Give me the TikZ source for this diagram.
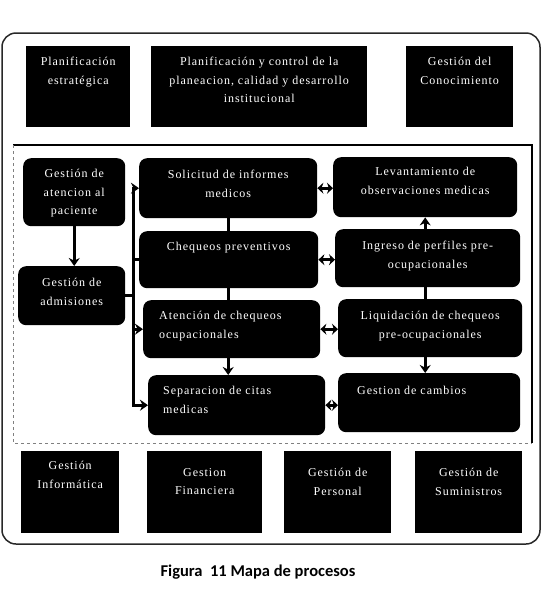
\documentclass[tikz,border=0pt]{standalone}
\usepackage{fontspec}
\usepackage{tikz}
\usetikzlibrary{arrows.meta, positioning, calc}
\newfontfamily\boxfont[LetterSpace=8]{Liberation Serif}
\newfontfamily\capfont{Carlito}
\definecolor{framegray}{RGB}{40,40,40}

\tikzset{
  flatbox/.style={fill=black, inner sep=0pt, anchor=north west},
  procbox/.style={fill=black, rounded corners=8pt, inner sep=0pt, anchor=north west},
  boxtxt/.style={text=white, font=\boxfont\fontsize{12}{18.5}\selectfont, align=center, anchor=north, inner sep=0pt},
  lefttxt/.style={boxtxt, align=left, anchor=north west},
  flow/.style={-{Stealth[length=8pt,width=11pt]}, line width=2.6pt},
  twoway/.style={{Stealth[length=6pt,width=11pt]}-{Stealth[length=6pt,width=11pt]}, line width=2.6pt},
  link/.style={line width=2.6pt}
}

\begin{document}
\begin{tikzpicture}[x=1pt, y=-1pt]
  \useasboundingbox (0,0) rectangle (543,606);
  % frames
  \draw[framegray, line width=1.5pt, rounded corners=14pt] (2,33) rectangle (540,544);
  \draw[line width=2.5pt] (13,145) -- (532,145) -- (532,443);
  \draw[gray, dashed] (13,145) -- (13,443) -- (532,443);

  % strategic processes
  \node[flatbox, minimum width=104pt, minimum height=81pt] (pe) at (26,46) {};
  \node[flatbox, minimum width=216pt, minimum height=81pt] (pc) at (151,46) {};
  \node[flatbox, minimum width=107pt, minimum height=81pt] (gc) at (406,46) {};
  \node[boxtxt, yshift=-11pt] (peT) at (pe.north) {Planificación\\estratégica};
  \node[boxtxt, yshift=-11pt] (pcT) at (pc.north) {Planificación y control de la\\planeacion, calidad y desarrollo\\institucional};
  \node[boxtxt, yshift=-11pt] (gcT) at (gc.north) {Gestión del\\Conocimiento};

  % core processes
  \node[procbox, minimum width=102pt, minimum height=68pt] (gat) at (23,158) {};
  \node[procbox, minimum width=107pt, minimum height=59pt] (gad) at (18,266) {};
  \node[procbox, minimum width=178pt, minimum height=60pt] (sol) at (139,158) {};
  \node[procbox, minimum width=184pt, minimum height=60pt] (lev) at (333,157) {};
  \node[procbox, minimum width=179pt, minimum height=57pt] (cheq) at (139,231) {};
  \node[procbox, minimum width=185pt, minimum height=58pt] (ing) at (335,229) {};
  \node[procbox, minimum width=177pt, minimum height=58pt] (aten) at (143,300) {};
  \node[procbox, minimum width=184pt, minimum height=58pt] (liq) at (338,299) {};
  \node[procbox, minimum width=177pt, minimum height=60pt] (sep) at (148,375) {};
  \node[procbox, minimum width=182pt, minimum height=59pt] (camb) at (338,373) {};

  \node[boxtxt, yshift=-11pt] (gatT) at (gat.north) {Gestión de\\atencion al\\paciente};
  \node[boxtxt, yshift=-12pt] (gadT) at (gad.north) {Gestión de\\admisiones};
  \node[boxtxt, yshift=-12pt] (solT) at (sol.north) {Solicitud de informes\\medicos};
  \node[boxtxt, yshift=-10pt] (levT) at (lev.north) {Levantamiento de\\observaciones medicas};
  \node[boxtxt, yshift=-11pt] (cheqT) at (cheq.north) {Chequeos preventivos};
  \node[boxtxt, yshift=-12pt] (ingT) at (ing.north) {Ingreso de perfiles pre-\\ocupacionales};
  \node[lefttxt, xshift=16pt, yshift=-11pt] (atenT) at (aten.north west) {Atención de chequeos\\ocupacionales};
  \node[boxtxt, yshift=-12pt] (liqT) at (liq.north) {Liquidación de chequeos\\pre-ocupacionales};
  \node[lefttxt, xshift=15pt, yshift=-11pt] (sepT) at (sep.north west) {Separacion de citas\\medicas};
  \node[lefttxt, xshift=19pt, yshift=-13pt] (cambT) at (camb.north west) {Gestion de cambios};

  % support processes
  \node[flatbox, minimum width=98pt, minimum height=82pt] (gi) at (21,451) {};
  \node[flatbox, minimum width=115pt, minimum height=82pt] (gf) at (147,451) {};
  \node[flatbox, minimum width=107pt, minimum height=82pt] (gp) at (284,451) {};
  \node[flatbox, minimum width=107pt, minimum height=82pt] (gs) at (415,451) {};
  \node[boxtxt, yshift=-10pt] (giT) at (gi.north) {Gestión\\Informática};
  \node[boxtxt, yshift=-17pt] (gfT) at (gf.north) {Gestion\\Financiera};
  \node[boxtxt, yshift=-17pt] (gpT) at (gp.north) {Gestión de\\Personal};
  \node[boxtxt, yshift=-17pt] (gsT) at (gs.north) {Gestión de\\Suministros};

  % connectors
  \draw[flow] (gat.south) -- (gat.south |- gad.north);
  \coordinate (bus) at ($(gad.east)+(8,0)$);
  \draw[link] (gad.east) -- (bus);
  \draw[flow] (bus) |- (sol.west);
  \draw[link] (bus) |- (cheq.west);
  \draw[flow] (bus) |- (aten.west);
  \draw[flow] (bus) |- (sep.west);

  \draw[link] (sol.south) -- (sol.south |- cheq.north);
  \draw[link] (sol.south |- cheq.south) -- (sol.south |- aten.north);
  \draw[flow] (sol.south |- aten.south) -- (sol.south |- sep.north);

  \draw[flow] (lev.south |- ing.north) -- (lev.south);
  \draw[link] (lev.south |- ing.south) -- (lev.south |- liq.north);
  \draw[flow] (lev.south |- liq.south) -- (lev.south |- camb.north);

  \draw[twoway] (sol.east) -- (sol.east -| lev.west);
  \draw[twoway] (cheq.east) -- (cheq.east -| ing.west);
  \draw[twoway] (aten.east) -- (aten.east -| liq.west);
  \draw[twoway] (sep.east) -- (sep.east -| camb.west);

  \node[font=\capfont\bfseries\fontsize{16.5}{20}\selectfont] (cap) at (258,572) {Figura\ \ 11 Mapa de procesos};
\end{tikzpicture}
\end{document}
